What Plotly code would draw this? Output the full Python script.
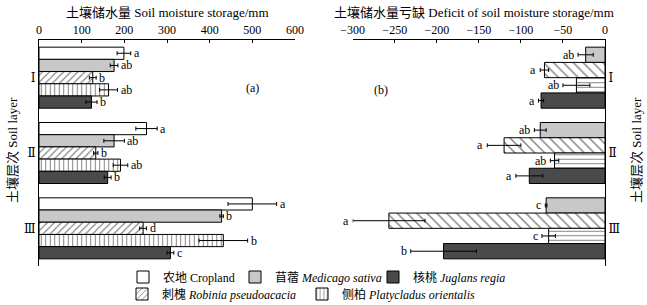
import plotly.graph_objects as go

layers = ["Ⅰ", "Ⅱ", "Ⅲ"]

# Left panel: soil moisture storage (mm)
storage_names = ["农地 Cropland", "苜蓿 <i>Medicago sativa</i>", "刺槐 <i>Robinia pseudoacacia</i>",
                 "侧柏 <i>Platycladus orientalis</i>", "核桃 <i>Juglans regia</i>"]
cropland = [199, 252, 500]
medicago = [176, 176, 428]
robinia = [126, 133, 244]
platycladus = [163, 191, 432]
juglans = [123, 161, 308]
cropland_err = [16, 25, 57]
medicago_err = [9, 24, 4]
robinia_err = [8, 5, 8]
platycladus_err = [21, 17, 57]
juglans_err = [13, 8, 8]
cropland_lab = ["a", "a", "a"]
medicago_lab = ["ab", "ab", "b"]
robinia_lab = ["b", "b", "d"]
platycladus_lab = ["ab", "ab", "b"]
juglans_lab = ["b", "b", "c"]

# Right panel: deficit of soil moisture storage (mm)
def_medicago = [-23, -77, -70]
def_robinia = [-72, -120, -257]
def_platycladus = [-34, -60, -67]
def_juglans = [-76, -90, -192]
def_medicago_err = [9, 7, 1]
def_robinia_err = [5, 20, 43]
def_platycladus_err = [16, 5, 8]
def_juglans_err = [3, 16, 39]
def_medicago_lab = ["ab", "ab", "c"]
def_robinia_lab = ["a", "a", "a"]
def_platycladus_lab = ["ab", "ab", "c"]
def_juglans_lab = ["a", "a", "b"]

FONT = "Liberation Serif, Noto Sans CJK SC, serif"
ROMAN_FONT = "DejaVu Serif, Liberation Serif, Noto Sans CJK SC, serif"
W, H = 647, 305
ML, MR, MT, MB = 39, 42, 40, 39
PW = W - ML - MR
PH = H - MT - MB

def px2x(px):
    return (px - ML) / PW

def px2y(py):
    return (H - MB - py) / PH

fig = go.Figure()

left_styles = [
    dict(color="white", pattern=dict(shape="")),
    dict(color="#c8c8c8", pattern=dict(shape="")),
    dict(color="white", pattern=dict(shape="/", fgcolor="black", bgcolor="white", size=5, solidity=0.22)),
    dict(color="white", pattern=dict(shape="|", fgcolor="black", bgcolor="white", size=4.5, solidity=0.22)),
    dict(color="#4a4a4a", pattern=dict(shape="")),
]
left_vals = [cropland, medicago, robinia, platycladus, juglans]
left_errs = [cropland_err, medicago_err, robinia_err, platycladus_err, juglans_err]
left_labs = [cropland_lab, medicago_lab, robinia_lab, platycladus_lab, juglans_lab]
legend_ids = ["legend", "legend2", "legend4", "legend5", "legend3"]

for i in range(5):
    st = left_styles[i]
    fig.add_trace(go.Bar(
        x=left_vals[i], y=layers, orientation="h", name=storage_names[i],
        xaxis="x", yaxis="y",
        marker=dict(color=st["color"], pattern=st["pattern"], line=dict(color="black", width=1)),
        error_x=dict(type="data", array=left_errs[i], visible=True, color="black", thickness=1, width=2),
        legend=legend_ids[i], showlegend=True,
    ))

right_styles = [
    dict(color="#c8c8c8", pattern=dict(shape="")),
    dict(color="white", pattern=dict(shape="\\", fgcolor="black", bgcolor="white", size=7, solidity=0.2)),
    dict(color="white", pattern=dict(shape="-", fgcolor="black", bgcolor="white", size=4.5, solidity=0.22)),
    dict(color="#4a4a4a", pattern=dict(shape="")),
]
right_vals = [def_medicago, def_robinia, def_platycladus, def_juglans]
right_errs = [def_medicago_err, def_robinia_err, def_platycladus_err, def_juglans_err]
right_labs = [def_medicago_lab, def_robinia_lab, def_platycladus_lab, def_juglans_lab]
for i in range(4):
    st = right_styles[i]
    fig.add_trace(go.Bar(
        x=right_vals[i], y=layers, orientation="h", name=storage_names[i + 1],
        xaxis="x2", yaxis="y2",
        marker=dict(color=st["color"], pattern=st["pattern"], line=dict(color="black", width=1)),
        error_x=dict(type="data", array=right_errs[i], visible=True, color="black", thickness=1, width=2),
        showlegend=False,
    ))

BARGAP = 0.19
band_px = PH / 3.0
group_px = band_px * (1 - BARGAP)

annotations = []
for i in range(5):
    bw = group_px / 5
    ysh = (2 - i) * bw
    for k in range(3):
        annotations.append(dict(
            x=left_vals[i][k] + left_errs[i][k], y=layers[k], xref="x", yref="y",
            text=left_labs[i][k], showarrow=False, xanchor="left", yanchor="middle",
            xshift=1, yshift=ysh, font=dict(family=FONT, size=12, color="black")))
for i in range(4):
    bw = group_px / 4
    ysh = (1.5 - i) * bw
    for k in range(3):
        annotations.append(dict(
            x=right_vals[i][k] - right_errs[i][k], y=layers[k], xref="x2", yref="y2",
            text=right_labs[i][k], showarrow=False, xanchor="right", yanchor="middle",
            xshift=-2, yshift=ysh, font=dict(family=FONT, size=12, color="black")))

annotations += [
    dict(x=px2x(167), y=px2y(13), xref="paper", yref="paper", text="土壤储水量 Soil moisture storage/mm",
         showarrow=False, xanchor="center", yanchor="middle", font=dict(family=FONT, size=13, color="black")),
    dict(x=px2x(474), y=px2y(13), xref="paper", yref="paper", text="土壤储水量亏缺 Deficit of soil moisture storage/mm",
         showarrow=False, xanchor="center", yanchor="middle", font=dict(family=FONT, size=13, color="black")),
    dict(x=px2x(12), y=px2y(150), xref="paper", yref="paper", text="土壤层次 Soil layer", textangle=-90,
         showarrow=False, xanchor="center", yanchor="middle", font=dict(family=FONT, size=13, color="black")),
    dict(x=px2x(636), y=px2y(150), xref="paper", yref="paper", text="土壤层次 Soil layer", textangle=-90,
         showarrow=False, xanchor="center", yanchor="middle", font=dict(family=FONT, size=13, color="black")),
    dict(x=px2x(252), y=px2y(88), xref="paper", yref="paper", text="(a)",
         showarrow=False, xanchor="center", yanchor="middle", font=dict(family=FONT, size=12, color="black")),
    dict(x=px2x(381), y=px2y(90), xref="paper", yref="paper", text="(b)",
         showarrow=False, xanchor="center", yanchor="middle", font=dict(family=FONT, size=12, color="black")),
]

axis_common = dict(showgrid=False, zeroline=False, showline=True, linecolor="black", linewidth=1)
xtickfont = dict(family=FONT, size=12, color="black")
ytickfont = dict(family=ROMAN_FONT, size=12, color="black")

def leg(xpx, ypx):
    return dict(x=px2x(xpx), y=px2y(ypx), xanchor="left", yanchor="middle", orientation="h",
                bgcolor="rgba(0,0,0,0)", font=dict(family=FONT, size=12, color="black"),
                itemwidth=30, tracegroupgap=0)

fig.update_layout(
    width=W, height=H,
    margin=dict(l=ML, r=MR, t=MT, b=MB, autoexpand=False),
    paper_bgcolor="white", plot_bgcolor="white",
    font=dict(family=FONT, size=12, color="black"),
    barmode="group", bargap=BARGAP, bargroupgap=0,
    xaxis=dict(domain=[0, px2x(295)], range=[0, 600], side="top", anchor="y", dtick=100,
               ticks="inside", ticklen=3, tickcolor="black", tickfont=xtickfont, **axis_common),
    xaxis2=dict(domain=[px2x(352.7), 1], range=[-300, 0], side="top", anchor="y2", dtick=50,
                ticks="inside", ticklen=3, tickcolor="black", tickfont=xtickfont, **axis_common),
    yaxis=dict(domain=[0, 1], anchor="x", autorange="reversed", type="category", ticks="",
               side="left", tickfont=ytickfont, **axis_common),
    yaxis2=dict(domain=[0, 1], anchor="x2", autorange="reversed", type="category", ticks="",
                side="right", tickfont=ytickfont, **axis_common),
    legend=leg(123, 277),
    legend2=leg(235, 277),
    legend3=leg(373, 277),
    legend4=leg(122, 294),
    legend5=leg(302, 294),
    annotations=annotations,
)

fig.write_html("out.html", config={"displayModeBar": False},
               post_script="document.body.style.margin='0';")
